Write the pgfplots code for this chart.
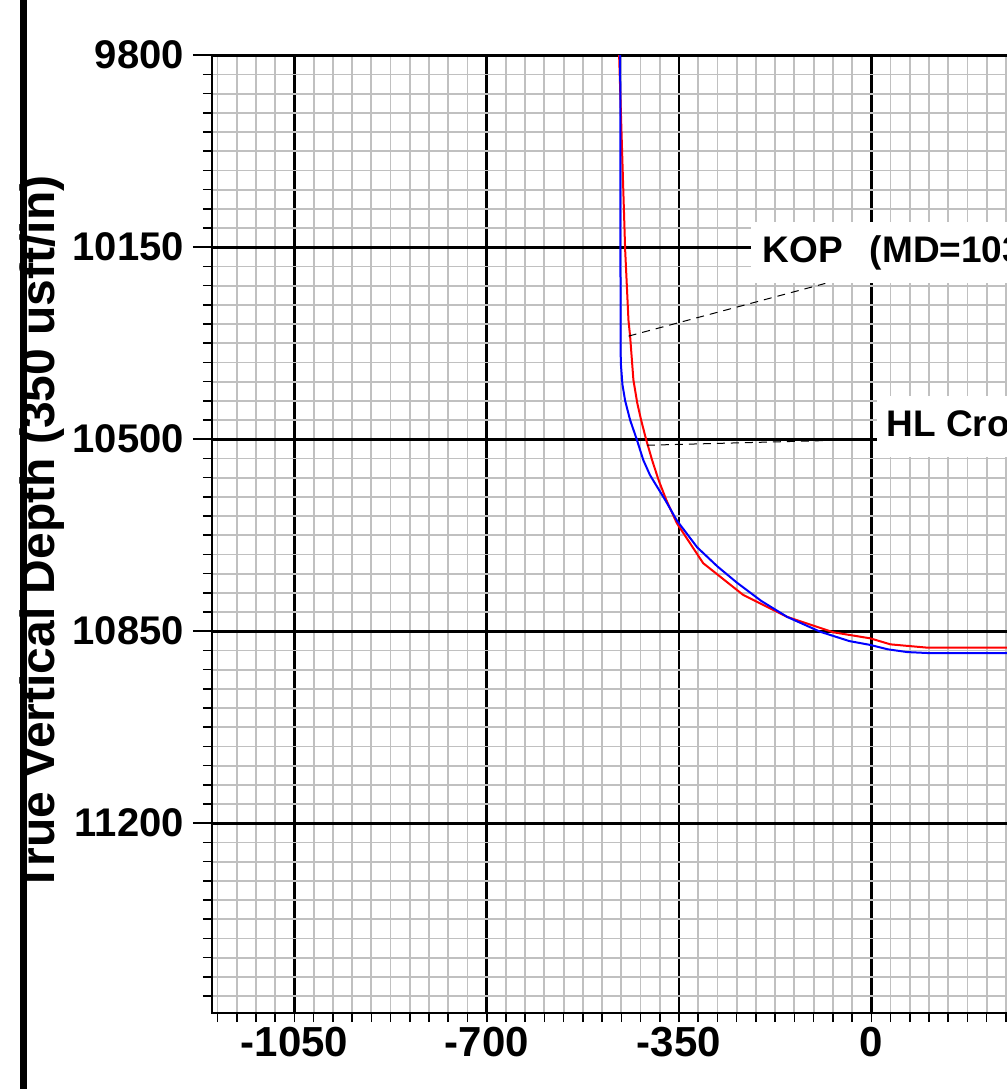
\documentclass[border=0pt]{standalone}
\usepackage{pgfplots}
\pgfplotsset{compat=1.18}
\usepackage{fontspec}
\setmainfont{Liberation Sans}
\definecolor{gridgray}{RGB}{192,192,192}
\definecolor{wellblue}{RGB}{0,0,255}
\definecolor{wellred}{RGB}{255,0,0}

\begin{document}
\begin{tikzpicture}
% page = cropped plot window (1px = 0.5pt)
\useasboundingbox (0,0) rectangle (503.5pt,544.5pt);
\clip (0,0) rectangle (503.5pt,544.5pt);
\begin{axis}[
    at={(106pt,38pt)}, anchor=south west,
    scale only axis, width=425.8pt, height=478.9pt,
    xmin=-1200, xmax=350, ymin=9800, ymax=11546,
    y dir=reverse,
    clip=false,
    scaled ticks=false,
    axis line style={line width=1.1pt},
    xtick={-1050,-700,-350,0,350},
    ytick={9800,10150,10500,10850,11200},
    minor tick num=0,
    minor xtick={-1190,-1155,...,340},
    minor ytick={9835,9870,...,11530},
    tick align=outside,
    xtick pos=bottom, ytick pos=left,
    major tick length=4.5pt, minor tick length=4.5pt,
    tick style={line width=0.8pt, black},
    extra y ticks={9800,10150,10500,10850,11200},
    extra y tick labels={},
    extra y tick style={major tick length=9.5pt, grid=none},
    grid=both,
    major grid style={line width=1.4pt, black},
    minor grid style={line width=0.9pt, gridgray},
    /pgf/number format/assume math mode=true,
    /pgf/number format/1000 sep={},
    xticklabel style={font=\fontsize{21pt}{25pt}\selectfont\bfseries, anchor=north, yshift=1pt},
    yticklabel style={font=\fontsize{20pt}{24pt}\selectfont\bfseries, anchor=east, xshift=-6pt},
    ylabel={True Vertical Depth (350 usft/in)},
    ylabel style={at={(axis description cs:-0.1990,0.5)}, anchor=center,
        font=\fontsize{24pt}{28pt}\selectfont\bfseries},
]
% planned (red) and actual (blue) well paths
\addplot[wellred, line width=1pt] coordinates {
    (-459,9800) (-448,10155) (-442,10283) (-439,10312) (-433,10392)
    (-426,10434) (-419,10465) (-410,10500) (-399,10538) (-387,10575)
    (-373,10611) (-354,10653) (-306,10726) (-233,10784) (-153,10824)
    (-69,10852) (-2,10863) (35,10874) (102,10880) (200,10880) (340,10880)
};
\addplot[wellblue, line width=1pt] coordinates {
    (-457,9800) (-456.5,10200) (-456,10360) (-453,10400) (-448,10430)
    (-439,10465) (-427,10500) (-415,10538) (-403,10565) (-397,10575)
    (-375,10611) (-354,10648) (-317,10697) (-280,10732) (-244,10762)
    (-200,10795) (-153,10824) (-93,10851) (-40,10868) (-2,10875)
    (30,10883) (65,10888) (107,10890) (200,10890) (340,10890)
};
% leaders and labels
\draw[black, line width=0.5pt, dash pattern=on 4pt off 3pt]
    (axis cs:-441.7,10312) -- (axis cs:-83.7,10216);
\draw[black, line width=0.5pt, dash pattern=on 4pt off 3pt]
    (axis cs:-408.3,10511) -- (axis cs:-7.3,10500.5);
\node[fill=white, anchor=west, inner xsep=6pt, inner ysep=6.5pt,
      font=\fontsize{18.5pt}{22pt}\selectfont\bfseries]
    at (axis cs:-220.2,10160) {KOP\hspace{13.5pt}(MD=10312.00)};
\node[fill=white, anchor=west, inner xsep=5pt, inner ysep=6.5pt,
      font=\fontsize{18.5pt}{22pt}\selectfont\bfseries]
    at (axis cs:9.1,10477) {HL Cross\hspace{13.5pt}(MD=10520.00)};
\end{axis}
% heavy frame line on the left
\fill[black] (9.75pt,0) rectangle (13.5pt,544.5pt);
\end{tikzpicture}
\end{document}
